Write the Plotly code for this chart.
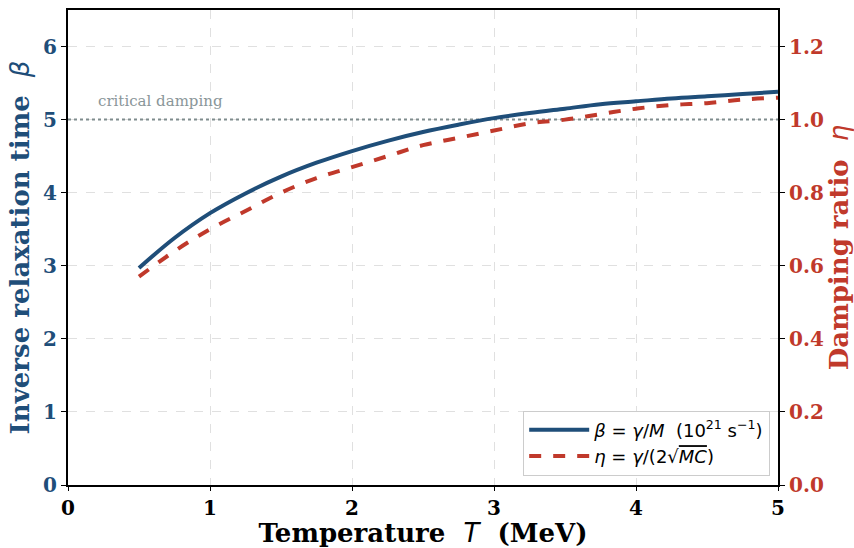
import plotly.graph_objects as go

T = [0.5, 0.75, 1.0, 1.25, 1.5, 1.75, 2.0, 2.25, 2.5, 2.75, 3.0, 3.25, 3.5, 3.75, 4.0, 4.25, 4.5, 4.75, 5.0]
beta = [2.97, 3.38, 3.72, 3.99, 4.22, 4.41, 4.57, 4.71, 4.83, 4.93, 5.02, 5.09, 5.15, 5.21, 5.25, 5.29, 5.32, 5.35, 5.38]
eta = [0.57, 0.64, 0.70, 0.75, 0.80, 0.84, 0.87, 0.90, 0.93, 0.95, 0.97, 0.99, 1.00, 1.015, 1.03, 1.04, 1.045, 1.055, 1.06]
critical_beta = 5.0
x_ticks = [0, 1, 2, 3, 4, 5]
y_ticks = [0, 1, 2, 3, 4, 5, 6]
y2_ticks = [0.0, 0.2, 0.4, 0.6, 0.8, 1.0, 1.2]

BLUE = "#1f4e79"
RED = "#c0392b"
SERIF = "DejaVu Serif"

fig = go.Figure()
fig.add_trace(go.Scatter(
    x=[0, 5], y=[critical_beta, critical_beta], mode="lines",
    line=dict(color="#7f8c8d", width=2, dash="dot"), showlegend=False, hoverinfo="skip"))
fig.add_trace(go.Scatter(
    x=T, y=beta, mode="lines", line=dict(color=BLUE, width=4, shape="spline"),
    name="<i>β</i> = <i>γ</i>/<i>M</i>  (10<sup>21</sup> s<sup>−1</sup>)"))
fig.add_trace(go.Scatter(
    x=T, y=eta, mode="lines", yaxis="y2", line=dict(color=RED, width=4, dash="dash", shape="spline"),
    name="<i>η</i> = <i>γ</i>/(2√<span style='text-decoration:overline'><i>MC</i></span>)"))

fig.add_annotation(x=0.2, y=critical_beta + 0.1, text="critical damping", showarrow=False,
                   xanchor="left", yanchor="bottom", font=dict(family=SERIF, size=15, color="#8a9699"))

fig.update_layout(
    width=854, height=548,
    margin=dict(l=68, r=76, t=10, b=63),
    plot_bgcolor="white", paper_bgcolor="white",
    font=dict(family=SERIF),
    xaxis=dict(range=[0, 5], tickvals=x_ticks, showgrid=True, gridcolor="#e0e0e0", griddash="dash",
               gridwidth=1, showline=True, linecolor="black", linewidth=2, mirror=True,
               ticks="outside", ticklen=4, tickcolor="black", zeroline=False, automargin=False,
               tickfont=dict(family=SERIF, size=20, color="black", weight="bold"),
               title=dict(text="Temperature  <i style='font-family:DejaVu Sans;font-weight:normal'>T</i>  (MeV)",
                          font=dict(family=SERIF, size=26, color="black", weight="bold"), standoff=8)),
    yaxis=dict(range=[0, 6.5], tickvals=y_ticks, showgrid=True, gridcolor="#e0e0e0", griddash="dash",
               gridwidth=1, showline=True, linecolor="black", linewidth=2,
               ticks="outside", ticklen=5, tickcolor="black", zeroline=False, automargin=False,
               tickfont=dict(family=SERIF, size=20, color=BLUE, weight="bold"),
               title=dict(text="Inverse relaxation time  <i style='font-family:DejaVu Sans;font-weight:normal'>β</i>",
                          font=dict(family=SERIF, size=26, color=BLUE, weight="bold"), standoff=6)),
    yaxis2=dict(range=[0, 1.3], tickvals=y2_ticks, ticktext=[f"{v:.1f}" for v in y2_ticks],
                overlaying="y", side="right", showgrid=False, showline=True, linecolor="black", linewidth=2,
                ticks="outside", ticklen=5, tickcolor="black", zeroline=False, automargin=False,
                tickfont=dict(family=SERIF, size=20, color=RED, weight="bold"),
                title=dict(text="Damping ratio  <i style='font-family:DejaVu Sans;font-weight:normal'>η</i>",
                           font=dict(family=SERIF, size=26, color=RED, weight="bold"), standoff=6)),
    legend=dict(x=0.989, y=0.02, xanchor="right", yanchor="bottom", bgcolor="white",
                bordercolor="#cccccc", borderwidth=1, font=dict(family="DejaVu Sans", size=18, color="black"),
                itemwidth=60, tracegroupgap=4),
)

fig.write_html("out.html")
